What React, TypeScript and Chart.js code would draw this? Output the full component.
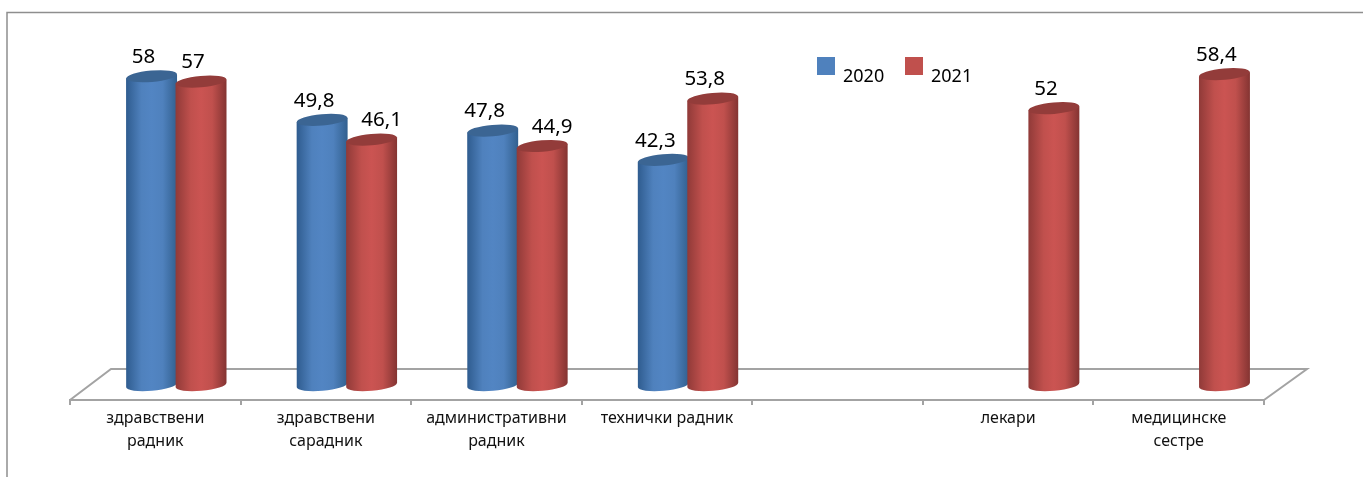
import React, { useEffect, useRef } from "react";
import { Chart, BarController, BarElement, CategoryScale, LinearScale } from "chart.js";

const categories: (string | string[])[] = [
  ["здравствени", "радник"],
  ["здравствени", "сарадник"],
  ["административни", "радник"],
  "технички радник",
  "",
  "лекари",
  ["медицинске", "сестре"],
];
const values2020 = [58, 49.8, 47.8, 42.3, null, null, null];
const values2021 = [57, 46.1, 44.9, 53.8, null, 52, 58.4];
const seriesNames = ["2020", "2021"];
const BLUE = "#4f81bd";
const RED = "#c0504d";

const FONT = '"Noto Sans", sans-serif';
const DEPTH_X = 21;
const BACK_X = 41;
const BACK_Y = 31;
const RY = 5.7;
const TILT = (-5 * Math.PI) / 180;

const shades: Record<string, { left: string; mid: string; right: string; top: string }> = {
  [BLUE]: { left: "#2f5c8f", mid: "#5285c3", right: "#32608f", top: "#3b6593" },
  [RED]: { left: "#903a38", mid: "#cb5452", right: "#843432", top: "#933c3a" },
};

class CylinderElement extends (BarElement as any) {
  static id = "cylinder";
  draw(ctx: CanvasRenderingContext2D) {
    const { x, y, base, width } = (this as any).getProps(["x", "y", "base", "width"]);
    const col = (this as any).options.backgroundColor as string;
    const s = shades[col];
    const cx = x + DEPTH_X;
    const rx = (width + 1.5) / 2;
    const dy = rx * Math.tan(-TILT) * 0.9;
    const g = ctx.createLinearGradient(cx - rx, 0, cx + rx, 0);
    g.addColorStop(0, s.left);
    g.addColorStop(0.3, col);
    g.addColorStop(0.5, s.mid);
    g.addColorStop(0.72, col);
    g.addColorStop(1, s.right);
    ctx.save();
    ctx.beginPath();
    ctx.moveTo(cx - rx, y + dy);
    ctx.lineTo(cx + rx, y - dy);
    ctx.lineTo(cx + rx, base - dy);
    ctx.ellipse(cx, base, rx, RY, TILT, 0, Math.PI, false);
    ctx.closePath();
    ctx.fillStyle = g;
    ctx.fill();
    ctx.beginPath();
    ctx.ellipse(cx, y, rx, RY, TILT, 0, Math.PI * 2);
    ctx.fillStyle = s.top;
    ctx.fill();
    ctx.restore();
  }
}

class CylinderController extends (BarController as any) {
  static id = "cylinderBar";
  static defaults = { ...(BarController as any).defaults, dataElementType: "cylinder" };
  static overrides = (BarController as any).overrides;
}

Chart.register(CategoryScale, LinearScale, BarElement, BarController, CylinderElement as any, CylinderController as any);

const LINE = "#a3a3a3";

const scene = {
  id: "scene",
  beforeDatasetsDraw(chart: any) {
    const { ctx, chartArea: a } = chart;
    ctx.save();
    // outer frame
    ctx.strokeStyle = "#8e8e8e";
    ctx.lineWidth = 1.5;
    ctx.beginPath();
    ctx.moveTo(7, 477);
    ctx.lineTo(7, 12.5);
    ctx.lineTo(1363, 12.5);
    ctx.stroke();
    // floor
    ctx.strokeStyle = LINE;
    ctx.lineWidth = 2;
    ctx.beginPath();
    ctx.moveTo(a.left, a.bottom);
    ctx.lineTo(a.left + BACK_X, a.bottom - BACK_Y);
    ctx.lineTo(a.right + BACK_X + 2, a.bottom - BACK_Y);
    ctx.lineTo(a.right, a.bottom);
    ctx.stroke();
    ctx.restore();
    // first series underneath, so the second one overlaps it
    chart.getDatasetMeta(0).controller.draw();
    chart.getDatasetMeta(1).controller.draw();
    return false;
  },
  afterDraw(chart: any) {
    const { ctx } = chart;
    ctx.save();
    ctx.fillStyle = "#000";
    ctx.textAlign = "center";
    ctx.textBaseline = "middle";
    ctx.font = `20.5px ${FONT}`;
    chart.data.datasets.forEach((ds: any, i: number) => {
      const meta = chart.getDatasetMeta(i);
      meta.data.forEach((el: any, j: number) => {
        const v = ds.data[j];
        if (v === null) return;
        // two labels of the second series were moved aside by hand in the original
        const nudged = i === 1 && (j === 1 || j === 2);
        ctx.fillText(String(v).replace(".", ","), el.x + DEPTH_X - 8 + (nudged ? 18 : 0), el.y - 19);
      });
    });
    // legend
    ctx.textAlign = "left";
    ctx.font = `18px ${FONT}`;
    const lx = [817, 905];
    chart.data.datasets.forEach((ds: any, i: number) => {
      ctx.fillStyle = ds.backgroundColor;
      ctx.fillRect(lx[i], 57, 18, 18);
      ctx.fillStyle = "#000";
      ctx.fillText(ds.label, lx[i] + 26, 77);
    });
    ctx.restore();
  },
};

export default function App() {
  const ref = useRef<HTMLCanvasElement>(null);
  useEffect(() => {
    const chart = new Chart(ref.current!, {
      type: "cylinderBar" as any,
      data: {
        labels: categories as any,
        datasets: [
          { label: seriesNames[0], data: values2020, backgroundColor: BLUE },
          { label: seriesNames[1], data: values2021, backgroundColor: RED },
        ] as any,
      },
      options: {
        animation: false,
        responsive: false,
        layout: { padding: { left: 70, right: 99, top: 39, bottom: 0 } },
        datasets: { cylinderBar: { barPercentage: 1, categoryPercentage: 0.58 } } as any,
        plugins: { legend: { display: false }, tooltip: { enabled: false } },
        scales: {
          x: {
            type: "category",
            offset: true,
            border: { color: LINE, width: 2 },
            grid: { offset: true, drawOnChartArea: false, color: LINE, lineWidth: 2, tickLength: 5, tickWidth: 2 } as any,
            ticks: {
              autoSkip: false,
              maxRotation: 0,
              color: "#111",
              padding: 2,
              font: { family: FONT, size: 16, lineHeight: "23px" as any },
            },
            afterFit(scale: any) {
              scale.height = 77;
            },
          },
          y: { type: "linear", display: false, min: -2.81, max: 65 },
        },
      } as any,
      plugins: [scene as any],
    });
    return () => chart.destroy();
  }, []);
  return (
    <div style={{ position: "absolute", left: 0, top: 0, width: 1363, height: 477, background: "#fff" }}>
      <canvas ref={ref} width={1363} height={477} style={{ display: "block" }} />
    </div>
  );
}
